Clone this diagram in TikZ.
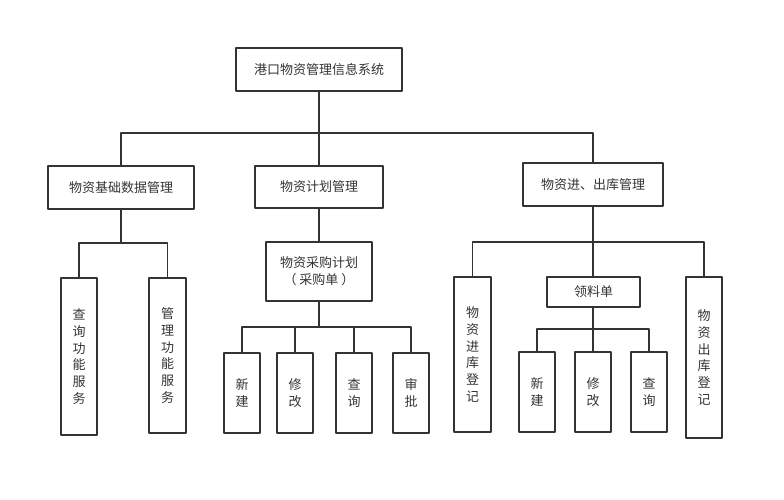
\documentclass[tikz,border=0pt]{standalone}
\usepackage{fontspec}
\setmainfont{Noto Sans CJK SC}
\begin{document}
\begin{tikzpicture}[x=1pt, y=-1pt, line cap=round, line join=round,
  box/.style={draw=black!80, line width=1.7pt, inner sep=0pt, align=center,
    font=\fontsize{13}{16.7}\selectfont, text=black!80},
  wire/.style={draw=black!80, line width=1.8pt}]

\useasboundingbox (0,0) rectangle (784,500);

% radice
\node[box, minimum width=166, minimum height=43] (sys) at (319,69.5) {港口物资管理信息系统};

% secondo livello
\node[box, minimum width=146, minimum height=43] (base) at (121,187.5) {物资基础数据管理};
\node[box, minimum width=128, minimum height=42] (plan) at (319,187) {物资计划管理};
\node[box, minimum width=140, minimum height=43] (io) at (593,184.5) {物资进、出库管理};

% rami del secondo livello
\coordinate (j0) at (319,133);
\draw[wire] (sys) -- (j0);
\draw[wire] (base.north) |- (j0) -| (io.north);
\draw[wire] (j0) -- (plan.north);

% dati di base
\node[box, minimum width=36, minimum height=157] (qfs) at (79,356.5) {查\\询\\功\\能\\服\\务};
\node[box, minimum width=37, minimum height=155] (mfs) at (167.5,355.5) {管\\理\\功\\能\\服\\务};
\coordinate (j1) at (121,243);
\draw[wire] (base) -- (j1);
\draw[wire] (qfs.north) |- (j1) -| (mfs.north);

% piano acquisti
\node[box, minimum width=106, minimum height=59] (buy) at (319,271.5) {物资采购计划\\（ 采购单 ）};
\draw[wire] (plan) -- (buy);
\node[box, minimum width=36, minimum height=80] (pnew) at (242,393) {新\\建};
\node[box, minimum width=36, minimum height=80] (pmod) at (295,393) {修\\改};
\node[box, minimum width=36, minimum height=80] (pqry) at (354,393) {查\\询};
\node[box, minimum width=36, minimum height=80] (pchk) at (411,393) {审\\批};
\coordinate (j2) at (319,327);
\draw[wire] (buy) -- (j2);
\draw[wire] (pnew.north) |- (j2) -| (pchk.north);
\foreach \n in {pmod,pqry}
  \draw[wire] (\n.north) -- (\n.north |- j2);

% entrate e uscite
\node[box, minimum width=37, minimum height=155] (inreg) at (472.5,354.5) {物\\资\\进\\库\\登\\记};
\node[box, minimum width=93, minimum height=30] (bill) at (593.5,292) {领料单};
\node[box, minimum width=36, minimum height=161] (outreg) at (704,357.5) {物\\资\\出\\库\\登\\记};
\coordinate (j3) at (593,242);
\draw[wire] (io) -- (j3);
\draw[wire] (inreg.north) |- (j3) -| (outreg.north);
\draw[wire] (j3) -- (bill.north -| j3);

% buono di prelievo
\node[box, minimum width=36, minimum height=80] (bnew) at (537,392) {新\\建};
\node[box, minimum width=36, minimum height=80] (bmod) at (593,392) {修\\改};
\node[box, minimum width=36, minimum height=80] (bqry) at (649,392) {查\\询};
\coordinate (j4) at (593,329);
\draw[wire] (bill.south -| j4) -- (j4);
\draw[wire] (bnew.north) |- (j4) -| (bqry.north);
\draw[wire] (j4) -- (bmod.north);

\end{tikzpicture}
\end{document}
